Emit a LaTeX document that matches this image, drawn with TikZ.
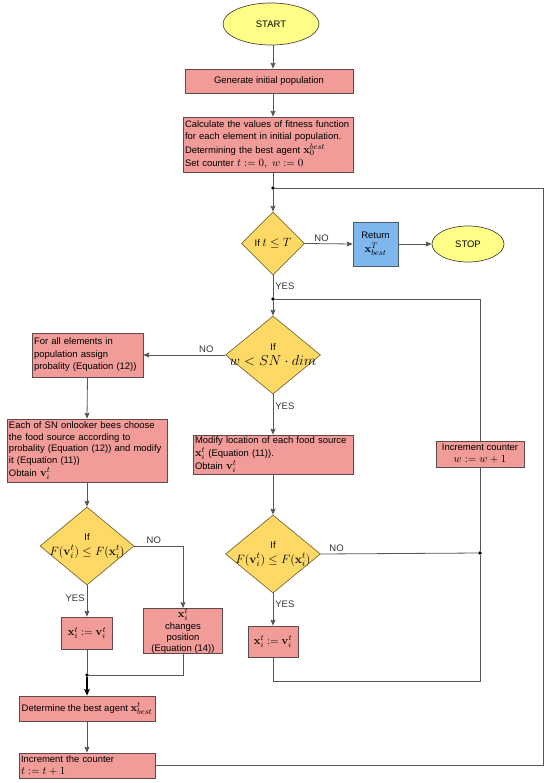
\documentclass[tikz,border=0pt]{standalone}
\usepackage[no-math]{fontspec}
\setmainfont[Scale=0.86]{Liberation Sans}
\usetikzlibrary{shapes.geometric,arrows.meta}
\definecolor{pinkf}{HTML}{F19C99}
\definecolor{pinkd}{HTML}{5E4A49}
\definecolor{yelf}{HTML}{FFD966}
\definecolor{yeld}{HTML}{7A6A30}
\definecolor{ellf}{HTML}{FFFF88}
\definecolor{elld}{HTML}{4A4A3A}
\definecolor{bluef}{HTML}{7EB6EE}
\definecolor{blued}{HTML}{4A5A6A}
\definecolor{edgec}{HTML}{555555}
\definecolor{lblc}{HTML}{333333}
\begin{document}
\begin{tikzpicture}[x=1pt,y=-1pt,
  font=\fontsize{11}{12.5}\selectfont,
  box/.style={rectangle,draw=pinkd,fill=pinkf,line width=0.7pt,inner sep=2pt},
  lft/.style={align=left},
  ctr/.style={align=center},
  dia/.style={diamond,draw=yeld,fill=yelf,line width=0.7pt,inner sep=0pt},
  ell/.style={ellipse,draw=elld,fill=ellf,line width=0.7pt,inner sep=0pt},
  dot/.style={circle,fill=black,inner sep=0pt,minimum size=3.6pt},
  ln/.style={draw=edgec,line width=0.8pt},
  arr/.style={ln,-{Stealth[length=6pt,width=5pt,inset=1pt]}},
  lbl/.style={text=lblc,inner sep=2pt,font=\fontsize{11}{12}\selectfont}
]
\useasboundingbox (0,0) rectangle (550,783);

% main column
\node[ell,minimum width=96pt,minimum height=42pt] (start) at (271,24) {START};
\node[box,minimum width=168pt,minimum height=24pt] (gen) at (269,81) {Generate initial population};
\node[box,lft,minimum width=170pt,minimum height=55pt,text width=166pt,inner ysep=1pt,font=\fontsize{11}{12}\selectfont] (calc) at (268,144.5)
  {Calculate the values of fitness function\\for each element in initial population.\\[1.5pt]Determining the best agent $\mathbf{x}_0^{best}$\\[1pt]Set counter $t := 0,\ w := 0$};
\node[dot] (dot1) at (273,188) {};
\node[dia,minimum width=63pt,minimum height=63pt,
  label={[align=center]center:{If {\fontsize{13}{14}\selectfont$t \leq T$}}}] (d1) at (273,243.5) {};
\node[rectangle,draw=blued,fill=bluef,line width=0.7pt,ctr,minimum width=45pt,minimum height=44pt,inner sep=1pt] (ret) at (375.5,244)
  {Return\\[1pt]$\mathbf{x}^T_{best}$};
\node[ell,minimum width=72pt,minimum height=36pt] (stop) at (468,244) {STOP};
\node[dot] (dot2) at (273,299) {};
\node[dia,minimum width=95pt,minimum height=78pt,
  label={[align=center]center:{If\\[2pt]{\fontsize{14}{15}\selectfont$w < SN\cdot dim$}}}] (d2) at (273,355) {};
\node[box,lft,minimum width=160pt,minimum height=39pt,text width=156pt,inner ysep=1pt,font=\fontsize{11}{12}\selectfont] (modify) at (273,454.5)
  {Modify location of each food source\\[1.5pt]$\mathbf{x}_i^t$ (Equation (11)).\\[1pt]Obtain $\mathbf{v}_i^t$};
\node[dia,minimum width=95pt,minimum height=78pt,
  label={[align=center]center:{If\\[2pt]{\fontsize{13}{14}\selectfont$F(\mathbf{v}_i^t) \leq F(\mathbf{x}_i^t)$}}}] (d3) at (273,554) {};
\node[box,minimum width=50pt,minimum height=31pt] (xvr) at (273,641.5) {$\mathbf{x}_i^t := \mathbf{v}_i^t$};

% right loop
\node[box,ctr,minimum width=88pt,minimum height=26pt,inner ysep=1pt,font=\fontsize{11}{12}\selectfont] (incw) at (480,454)
  {Increment counter\\$w := w+1$};
\node[dot] (dot3) at (480,553) {};
\coordinate (lb) at (480,681);
\coordinate (rt) at (543,188);

% left column
\node[box,lft,minimum width=111pt,minimum height=44pt,text width=107pt] (forall) at (87.5,355)
  {For all elements in\\population assign\\probality (Equation (12))};
\node[box,lft,minimum width=160pt,minimum height=63pt,text width=156pt,inner ysep=1pt,font=\fontsize{11}{11.5}\selectfont] (each) at (87,450.5)
  {Each of SN onlooker bees choose\\the food source according to\\probality (Equation (12)) and modify\\it (Equation (11))\\[1.5pt]Obtain $\mathbf{v}_i^t$};
\node[dia,minimum width=94pt,minimum height=78pt,
  label={[align=center]center:{If\\[2pt]{\fontsize{13}{14}\selectfont$F(\mathbf{v}_i^t) \leq F(\mathbf{x}_i^t)$}}}] (d4) at (87,546) {};
\node[box,minimum width=51pt,minimum height=32pt] (xvl) at (87,633) {$\mathbf{x}_i^t := \mathbf{v}_i^t$};
\node[box,ctr,minimum width=79pt,minimum height=44pt,inner sep=0.5pt,font=\fontsize{11}{10.6}\selectfont] (chg) at (183,631)
  {$\mathbf{x}_i^t$\\[1.5pt]changes\\position\\(Equation (14))};
\node[dot] (dot4) at (87,675) {};
\node[box,minimum width=136pt,minimum height=25pt,inner xsep=1pt] (det) at (87,708.5)
  {Determine the best agent $\mathbf{x}^t_{best}$};
\node[box,lft,minimum width=136pt,minimum height=25pt,text width=132pt,inner ysep=1pt,font=\fontsize{11}{11.5}\selectfont] (inct) at (87,765.5)
  {Increment the counter\\$t := t+1$};

% connectors main column
\draw[arr] (start.south -| dot1) -- (gen.north -| dot1);
\draw[arr] (gen.south -| dot1) -- (calc.north -| dot1);
\draw[ln] (calc.south -| dot1) -- (dot1);
\draw[arr] (dot1) -- (d1.north);
\draw[arr] (d1.east) -- node[lbl,above,pos=0.35]{NO} (ret.west);
\draw[arr] (ret.east) -- (stop.west);
\draw[ln] (d1.south) -- node[lbl,right,pos=0.5]{YES} (dot2);
\draw[arr] (dot2) -- (d2.north);
\draw[arr] (d2.west) -- node[lbl,above,pos=0.23]{NO} (forall.east);
\draw[arr] (d2.south) -- node[lbl,right,pos=0.3]{YES} (modify.north);
\draw[arr] (modify.south) -- (d3.north);
\draw[ln] (d3.east) -- node[lbl,above,pos=0.1]{NO} (dot3);
\draw[arr] (d3.south) -- node[lbl,right,pos=0.35]{YES} (xvr.north);

% right loops
\draw[ln] (xvr.south) |- (lb) -- (dot3);
\draw[ln] (dot3) -- (incw.south);
\draw[ln] (incw.north) |- (dot2);
\draw[ln] (inct.east) -| (rt) -- (dot1);

% left column
\draw[arr] (forall.south) -- (each.north);
\draw[arr] (each.south) -- (d4.north);
\draw[arr] (d4.east) -| node[lbl,above,pos=0.2]{NO} (chg.north);
\draw[arr] (d4.south) -- node[lbl,left,pos=0.4]{YES} (xvl.north);
\draw[ln] (xvl.south) -- (dot4);
\draw[ln] (chg.south) |- (dot4);
\draw[line width=1.4pt,-{Stealth[length=6.5pt,width=5.5pt,inset=1pt]}] (dot4) -- (det.north);
\draw[arr] (det.south) -- (inct.north);
\end{tikzpicture}
\end{document}
